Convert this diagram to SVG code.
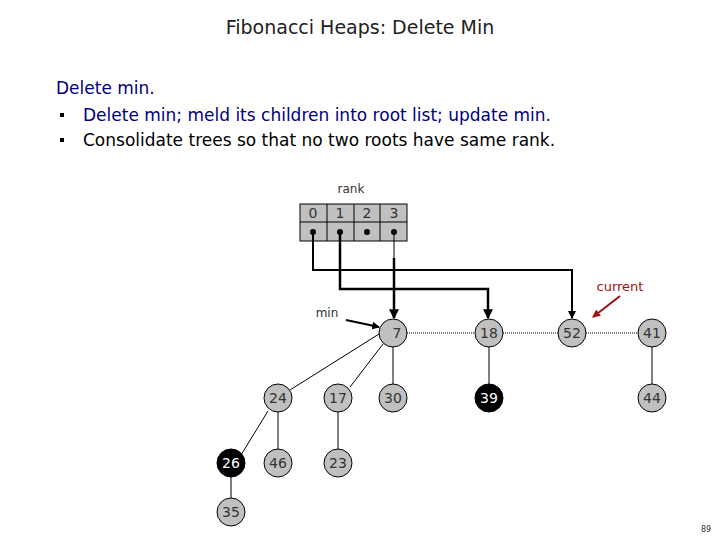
<svg xmlns="http://www.w3.org/2000/svg" width="720" height="540" viewBox="0 0 720 540">
<style>
text{font-family:"DejaVu Sans","Liberation Sans",sans-serif}
.t{font-size:17px;fill:#000080}
.n circle{fill:#c0c0c0;stroke:#000;stroke-width:1}
.n text{font-size:14px;fill:#333;text-anchor:middle}
.b circle{fill:#000}
.b text{fill:#fff}
.e{stroke:#000;stroke-width:1;fill:none}
.p{stroke:#000;stroke-width:2.5;fill:none}
.d{stroke:#000;stroke-width:1;stroke-dasharray:1,1;fill:none}
</style>
<defs>
<marker id="a" markerWidth="4" markerHeight="4" refX="3.5" refY="2" orient="auto"><path d="M0,0L4,2L0,4z" fill="#000"/></marker>
<marker id="r" markerWidth="4" markerHeight="4" refX="3.5" refY="2" orient="auto"><path d="M0,0L4,2L0,4z" fill="#a01010"/></marker>
</defs>
<rect width="720" height="540" fill="#fff"/>
<text x="360" y="34" font-size="19" text-anchor="middle" fill="#222">Fibonacci Heaps:  Delete Min</text>
<text class="t" x="56" y="94">Delete min.</text>
<rect x="60" y="113" width="4" height="4" fill="#000"/>
<rect x="60" y="138" width="4" height="4" fill="#000"/>
<text x="83" y="121" font-size="17" fill="#000080">Delete min; meld its children into root list; update min.</text>
<text x="83" y="146" font-size="17" fill="#000">Consolidate trees so that no two roots have same rank.</text>
<g id="rank">
<text x="351" y="193" font-size="12" text-anchor="middle" fill="#333">rank</text>
<rect x="300" y="204" width="107" height="37" fill="#c0c0c0" stroke="#000"/>
<path d="M300,222H407M327,204V241M354,204V241M380,204V241" stroke="#000" fill="none"/>
<g font-size="14" text-anchor="middle" fill="#333"><text x="313" y="218">0</text><text x="340" y="218">1</text><text x="367" y="218">2</text><text x="394" y="218">3</text></g>
<g fill="#000"><circle cx="313" cy="232" r="3"/><circle cx="340" cy="232" r="3"/><circle cx="367" cy="232" r="3"/><circle cx="394" cy="232" r="3"/></g>
</g>
<g id="connectors">
<path d="M313,232V270H572V318" stroke="#000" stroke-width="2" fill="none" marker-end="url(#a)"/>
<path class="p" d="M340,232V289H488V318" marker-end="url(#a)"/>
<path d="M394,232V258" class="e"/>
<path class="p" d="M394,258V318" marker-end="url(#a)"/>
<path d="M346,320L379,327" stroke="#000" stroke-width="2" marker-end="url(#a)"/>
<path d="M620,296L593,317" stroke="#a01010" stroke-width="2" marker-end="url(#r)"/>
<path class="d" d="M407,333H475M503,333H558M586,333H638"/>
<path class="e" d="M379,334L290,390M383,344L350,387M393,347V384M489,347V384M652,347V384M268,411L241,455M278,412V449M338,412V449M231,477V498"/>
</g>
<text x="327" y="317" font-size="12" text-anchor="middle" fill="#333">min</text>
<text x="620" y="291" font-size="13" text-anchor="middle" fill="#a01010">current</text>
<g id="n7" class="n"><circle cx="393" cy="333" r="14"/><text x="397" y="338">7</text></g>
<g id="n18" class="n"><circle cx="489" cy="333" r="14"/><text x="489" y="338">18</text></g>
<g id="n52" class="n"><circle cx="572" cy="333" r="14"/><text x="572" y="338">52</text></g>
<g id="n41" class="n"><circle cx="652" cy="333" r="14"/><text x="652" y="338">41</text></g>
<g id="n24" class="n"><circle cx="278" cy="398" r="14"/><text x="278" y="403">24</text></g>
<g id="n17" class="n"><circle cx="338" cy="398" r="14"/><text x="338" y="403">17</text></g>
<g id="n30" class="n"><circle cx="393" cy="398" r="14"/><text x="393" y="403">30</text></g>
<g id="n39" class="n b"><circle cx="489" cy="398" r="14"/><text x="489" y="403">39</text></g>
<g id="n44" class="n"><circle cx="652" cy="398" r="14"/><text x="652" y="403">44</text></g>
<g id="n26" class="n b"><circle cx="231" cy="463" r="14"/><text x="231" y="468">26</text></g>
<g id="n46" class="n"><circle cx="278" cy="463" r="14"/><text x="278" y="468">46</text></g>
<g id="n23" class="n"><circle cx="338" cy="463" r="14"/><text x="338" y="468">23</text></g>
<g id="n35" class="n"><circle cx="231" cy="512" r="14"/><text x="231" y="517">35</text></g>
<text x="706" y="532" font-size="8" text-anchor="middle" fill="#333">89</text>
</svg>
